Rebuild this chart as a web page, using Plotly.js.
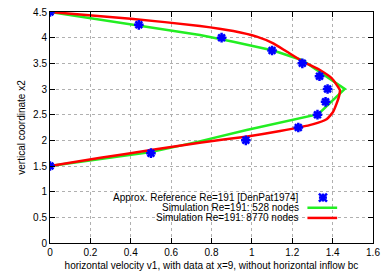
<!DOCTYPE html>
<html>
<head>
<meta charset="utf-8">
<script src="https://cdn.plot.ly/plotly-3.0.1.min.js"></script>
<style>html,body{margin:0;padding:0;background:#fff;}#plot{width:390px;height:273px;}</style>
</head>
<body>
<div id="plot"></div>
<script>
// Reference data (DenPat1974)
const refX = [0, 0.44, 0.85, 1.10, 1.25, 1.335, 1.375, 1.365, 1.325, 1.23, 0.97, 0.50, 0];
const refY = [4.5, 4.25, 4.0, 3.75, 3.5, 3.25, 3.0, 2.75, 2.5, 2.25, 2.0, 1.75, 1.5];

// Simulation 528 nodes
const coarseX = [0, 0.40, 0.743, 0.908, 1.106, 1.25, 1.46, 1.329, 1.139, 0.974, 0.73, 0.50, 0];
const coarseY = [4.5, 4.26, 4.05, 3.92, 3.75, 3.56, 3.0, 2.51, 2.35, 2.20, 1.97, 1.77, 1.5];

// Simulation 8770 nodes
const fineX = [0, 0.4, 0.743, 0.908, 1.024, 1.106, 1.172, 1.255, 1.337, 1.395, 1.42, 1.436, 1.433, 1.42, 1.403, 1.37, 1.30, 1.14, 0.97, 0.75, 0.5, 0.25, 0];
const fineY = [4.5, 4.37, 4.228, 4.13, 4.02, 3.89, 3.73, 3.53, 3.37, 3.21, 3.08, 2.98, 2.88, 2.72, 2.56, 2.41, 2.31, 2.18, 2.07, 1.96, 1.81, 1.66, 1.5];

const xTicks = [0, 0.2, 0.4, 0.6, 0.8, 1, 1.2, 1.4, 1.6];
const yTicks = [0, 0.5, 1, 1.5, 2, 2.5, 3, 3.5, 4, 4.5];
const legendLabels = ["Approx. Reference Re=191 [DenPat1974]", "Simulation Re=191: 528 nodes", "Simulation Re=191: 8770 nodes"];

const FONT = "Liberation Sans, Arial, sans-serif";
const BLUE = "#0000ff", GREEN = "#22ee22", RED = "#ff0000";

const traces = [
  {x: coarseX, y: coarseY, mode: "lines", line: {color: GREEN, width: 2.5}, showlegend: false, hoverinfo: "skip"},
  {x: fineX, y: fineY, mode: "lines", line: {color: RED, width: 2.5, shape: "spline", smoothing: 0.5}, showlegend: false, hoverinfo: "skip"},
  {x: refX, y: refY, mode: "markers", marker: {symbol: "asterisk-open", size: 8, color: BLUE, line: {color: BLUE, width: 2.5}}, showlegend: false, hoverinfo: "skip"}
];

// legend rows (paper coords)
const legRowY = [0.1967, 0.1526, 0.1085];
const legTextX = 0.775;
const annotations = legendLabels.map((t, i) => ({
  text: t, xref: "paper", yref: "paper", x: legTextX, y: legRowY[i],
  xanchor: "right", yanchor: "middle", showarrow: false, borderpad: 0,
  font: {family: FONT, size: 10, color: "#000"}
}));
const shapes = [
  {type: "line", xref: "paper", yref: "paper", x0: 0.797, x1: 0.889, y0: legRowY[1], y1: legRowY[1], line: {color: GREEN, width: 2.5}},
  {type: "line", xref: "paper", yref: "paper", x0: 0.797, x1: 0.889, y0: legRowY[2], y1: legRowY[2], line: {color: RED, width: 2.5}}
];
// asterisk legend marker
[[-4,4,-4,4],[-4,4,4,-4],[-4,4,0,0],[0,0,-4,4]].forEach(s => shapes.push({
  type: "line", xref: "paper", yref: "paper", xsizemode: "pixel", ysizemode: "pixel",
  xanchor: 0.845, yanchor: legRowY[0], x0: s[0], x1: s[1], y0: s[2], y1: s[3],
  line: {color: BLUE, width: 2.5}
}));

const axisCommon = {
  showline: true, linecolor: "#000", linewidth: 1, mirror: "allticks",
  ticks: "inside", ticklen: 5, tickcolor: "#000", tickwidth: 1,
  showgrid: true, gridcolor: "#b0b0b0", griddash: "dot", gridwidth: 1,
  zeroline: false, tickfont: {family: FONT, size: 10, color: "#000"}
};

const layout = {
  width: 390, height: 273,
  margin: {l: 50, r: 17, t: 12, b: 30},
  paper_bgcolor: "#fff", plot_bgcolor: "#fff",
  font: {family: FONT, size: 10, color: "#000"},
  xaxis: Object.assign({}, axisCommon, {
    range: [0, 1.6], tickvals: xTicks, ticktext: xTicks.map(String),
    title: {text: "horizontal velocity v1, with data at x=9, without horizontal inflow bc", font: {family: FONT, size: 10}, standoff: 4}
  }),
  yaxis: Object.assign({}, axisCommon, {
    range: [0, 4.5], tickvals: yTicks, ticktext: yTicks.map(String),
    title: {text: "vertical coordinate x2", font: {family: FONT, size: 10}, standoff: 5}
  }),
  annotations: annotations,
  shapes: shapes,
  showlegend: false
};

Plotly.newPlot("plot", traces, layout, {staticPlot: true, displayModeBar: false});
</script>
</body>
</html>
